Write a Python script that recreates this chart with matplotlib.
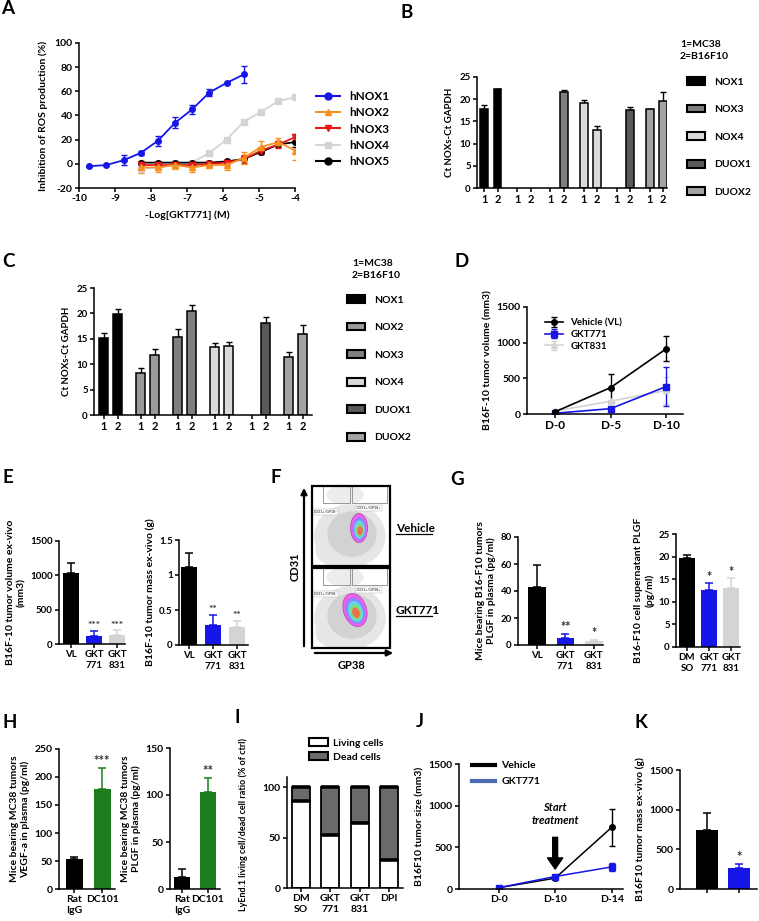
import numpy as np
import matplotlib.pyplot as plt
from matplotlib.patches import Patch, Rectangle, Ellipse
from matplotlib.lines import Line2D

# ---------------- data ----------------
# A: inhibition of ROS production vs -log[GKT771]
a_dose_nox1 = [-9.72, -9.24, -8.76, -8.29, -7.81, -7.33, -6.86, -6.38, -5.90, -5.42]
a_dose_other = [-8.29, -7.81, -7.33, -6.86, -6.38, -5.90, -5.42, -4.94, -4.46, -4.0]
a_nox1 = [-2, -1, 3, 9, 19, 34, 45, 59, 67, 74]
a_nox1_err = [0.5, 0.5, 4, 1.5, 4, 4.5, 4, 3, 1, 7]
a_nox2 = [-3, -3, -1, -3, -1, -1, 5, 14, 18, 11]
a_nox2_err = [5, 4, 3, 4, 2, 4, 5, 5, 3, 8]
a_nox3 = [-1, -1, -1, -1, 0, 1, 4, 11, 16, 22]
a_nox3_err = [2, 2, 2, 2, 2, 2, 3, 3, 3, 3]
a_nox4 = [-4, -3, -1, 1, 9, 20, 35, 43, 52, 55]
a_nox4_err = [1, 1, 1, 1, 1, 1, 1, 1, 2, 1]
a_nox5 = [1, 1, 1, 1, 1, 2, 4, 10, 16, 18]
a_nox5_err = [1, 1, 1, 1, 1, 1, 1, 2, 2, 4]

# B / C: Ct NOXs - Ct GAPDH, 1=MC38, 2=B16F10
genes = ['NOX1', 'NOX2', 'NOX3', 'NOX4', 'DUOX1', 'DUOX2']
b_mc38 = [17.8, np.nan, np.nan, 19.1, np.nan, 17.7]
b_mc38_err = [0.8, 0, 0, 0.8, 0, 0.1]
b_b16 = [22.2, np.nan, 21.7, 13.0, 17.5, 19.6]
b_b16_err = [0.2, 0, 0.3, 0.9, 0.7, 2.0]
c_mc38 = [15.2, 8.2, 15.3, 13.3, np.nan, 11.4]
c_mc38_err = [0.9, 1.1, 1.6, 0.9, 0, 1.0]
c_b16 = [19.9, 11.9, 20.5, 13.6, 18.2, 16.0]
c_b16_err = [1.0, 1.0, 1.1, 0.8, 1.0, 1.8]

# D: tumour growth
d_days = ['D-0', 'D-5', 'D-10']
d_vl = [30, 370, 915]
d_vl_err = [10, 195, 175]
d_771 = [10, 75, 385]
d_771_err = [5, 20, 275]
d_831 = [40, 180, 330]
d_831_err = [10, 20, 190]

# E
e_groups = ['VL', 'GKT\n771', 'GKT\n831']
e_volume = [1030, 110, 130]
e_volume_err = [150, 80, 70]
e_volume_stars = ['', '***', '***']
e_mass = [1.12, 0.28, 0.26]
e_mass_err = [0.19, 0.15, 0.09]
e_mass_stars = ['', '**', '**']

# G
g_plasma = [43, 5.5, 3]
g_plasma_err = [16, 3, 1]
g_plasma_stars = ['', '**', '*']
g_groups_cells = ['DM\nSO', 'GKT\n771', 'GKT\n831']
g_cells = [19.6, 12.6, 13.0]
g_cells_err = [0.7, 1.5, 2.2]
g_cells_stars = ['', '*', '*']

# H
h_groups = ['Rat\nIgG', 'DC101']
h_vegf = [54, 178]
h_vegf_err = [4, 38]
h_vegf_stars = ['', '***']
h_plgf = [13, 103]
h_plgf_err = [8, 15]
h_plgf_stars = ['', '**']

# I
i_groups = ['DM\nSO', 'GKT\n771', 'GKT\n831', 'DPI']
i_living = [86, 53, 64, 28]
i_dead = [14, 47, 36, 72]

# J
j_days = ['D-0', 'D-10', 'D-14']
j_vl = [15, 130, 740]
j_vl_err = [5, 10, 220]
j_771 = [15, 150, 265]
j_771_err = [5, 15, 45]

# K
k_mass = [740, 265]
k_mass_err = [220, 55]
k_stars = ['', '*']

# F: flow cytometry density levels (outer -> core)
f_level_colors = ['#f060ee', '#8f82ff', '#62d8ea', '#80dc80', '#f0704e']
f_level_sizes = [1.0, 0.8, 0.63, 0.47, 0.32]

BLUE = '#1616e6'
LGRAY = '#d4d4d4'
GREEN = '#1d7d1d'

plt.rcParams['font.family'] = ['Lato', 'DejaVu Sans']
plt.rcParams['font.weight'] = 'bold'
plt.rcParams['axes.labelweight'] = 'bold'
plt.rcParams['axes.unicode_minus'] = False
plt.rcParams['axes.linewidth'] = 1.1
plt.rcParams['xtick.major.width'] = 1.1
plt.rcParams['ytick.major.width'] = 1.1
plt.rcParams['xtick.major.size'] = 3
plt.rcParams['ytick.major.size'] = 3
plt.rcParams['xtick.labelsize'] = 7
plt.rcParams['ytick.labelsize'] = 7
plt.rcParams['axes.labelsize'] = 7

W, H = 759, 921
fig = plt.figure(figsize=(W / 100, H / 100), dpi=100)


def px_axes(l, t, r, b):
    ax = fig.add_axes([l / W, 1 - b / H, (r - l) / W, (b - t) / H])
    ax.spines[['top', 'right']].set_visible(False)
    ax.tick_params(pad=1.5)
    ax.patch.set_alpha(0)
    return ax


def fig_anchor(x, y):
    return (x / W, 1 - y / H)


# ---------------- A ----------------
ax = px_axes(79, 43, 295, 188)
a_series = [
    (a_dose_other, a_nox4, a_nox4_err, LGRAY, 's', 'hNOX4'),
    (a_dose_other, a_nox5, a_nox5_err, 'black', 'o', 'hNOX5'),
    (a_dose_other, a_nox3, a_nox3_err, '#e81818', 'v', 'hNOX3'),
    (a_dose_other, a_nox2, a_nox2_err, '#f7901e', '^', 'hNOX2'),
    (a_dose_nox1, a_nox1, a_nox1_err, BLUE, 'o', 'hNOX1'),
]
handles = {}
for x, y, e, c, m, lab in a_series:
    ax.errorbar(x, y, yerr=e, color=c, marker=m, ms=4, lw=1.3,
                elinewidth=1, capsize=2)
    handles[lab] = Line2D([], [], color=c, marker=m, ms=5, lw=1.5)
ax.set_xlim(-10, -4)
ax.set_ylim(-20, 100)
ax.set_xticks(range(-10, -3))
ax.set_yticks(range(-20, 101, 20))
ax.tick_params(labelsize=7.5)
ax.set_xlabel('-Log[GKT771] (M)', labelpad=5, fontsize=7.5)
ax.set_ylabel('Inhibition of ROS production (%)', labelpad=5, fontsize=7.5)
order = ['hNOX1', 'hNOX2', 'hNOX3', 'hNOX4', 'hNOX5']
ax.legend([handles[k] for k in order], order, loc='upper left',
          bbox_to_anchor=fig_anchor(316, 91), bbox_transform=fig.transFigure,
          frameon=False, fontsize=8.5, handlelength=2.0, labelspacing=0.45,
          borderpad=0, borderaxespad=0, handletextpad=0.8)


# ---------------- B / C ----------------
def expr_panel(box, mc38, mc38_err, b16, b16_err, colors, gap, xlim, width,
               leg_genes, leg_anchor, title_xy):
    ax = px_axes(*box)
    base = np.arange(len(mc38)) * gap
    for pos, vals, errs in [(base, mc38, mc38_err), (base + 1, b16, b16_err)]:
        ax.bar(pos, vals, width, color=colors, edgecolor='black', lw=1.1, zorder=2)
        ax.errorbar(pos, vals, yerr=[np.zeros(len(errs)), errs], fmt='none',
                    ecolor='black', elinewidth=1, capsize=2, zorder=1)
    ticks = np.sort(np.concatenate([base, base + 1]))
    ax.set_xticks(ticks, ['1', '2'] * len(mc38), fontsize=8)
    ax.set_xlim(*xlim)
    ax.set_ylim(0, 25)
    ax.set_yticks(range(0, 26, 5))
    ax.set_ylabel('Ct NOXs-Ct GAPDH', labelpad=4)
    col = dict(zip(genes, colors))
    hs = [Patch(facecolor=col[g], edgecolor='black', lw=1.5) for g in leg_genes]
    ax.legend(hs, leg_genes, loc='upper left', bbox_to_anchor=fig_anchor(*leg_anchor),
              bbox_transform=fig.transFigure, frameon=False, fontsize=7.5,
              handlelength=1.7, handleheight=0.8, labelspacing=1.72,
              borderpad=0, borderaxespad=0, handletextpad=0.9)
    fig.text(title_xy[0] / W, 1 - title_xy[1] / H, '1=MC38\n2=B16F10',
             fontsize=7.5, va='top', linespacing=1.4)
    return ax


b_colors = ['#000000', '#9a9a9a', '#7f7f7f', '#dadada', '#595959', '#a3a3a3']
expr_panel((477, 77, 667, 188), b_mc38, b_mc38_err, b_b16, b_b16_err, b_colors,
           2.5, (-0.55, 13.8), 0.6, ['NOX1', 'NOX3', 'NOX4', 'DUOX1', 'DUOX2'],
           (687, 77), (680, 40))
expr_panel((94, 288, 312, 415), c_mc38, c_mc38_err, c_b16, c_b16_err, b_colors,
           2.65, (-0.7, 14.9), 0.64, genes, (347, 295), (352, 259))

# ---------------- D ----------------
ax = px_axes(527, 307, 683, 414)
xs = np.arange(len(d_days))
for vals, errs, c, m, lab in [(d_831, d_831_err, LGRAY, '^', 'GKT831'),
                              (d_771, d_771_err, BLUE, 's', 'GKT771'),
                              (d_vl, d_vl_err, 'black', 'o', 'Vehicle (VL)')]:
    ax.errorbar(xs, vals, yerr=errs, color=c, marker=m, ms=4, lw=1.2,
                elinewidth=1, capsize=2.5, label=lab)
ax.set_xlim(-0.5, 2.3)
ax.set_ylim(0, 1500)
ax.set_yticks(range(0, 1501, 500))
ax.set_xticks(xs, d_days, fontsize=8.5)
ax.tick_params(axis='y', labelsize=7.5)
ax.set_ylabel('B16F-10 tumor volume (mm3)', labelpad=3, fontsize=7.5)
h, l = ax.get_legend_handles_labels()
ax.legend(h[::-1], l[::-1], loc='upper left', bbox_to_anchor=fig_anchor(545, 318),
          bbox_transform=fig.transFigure, frameon=False, fontsize=7,
          handlelength=1.8, labelspacing=0.3, borderpad=0, borderaxespad=0)


# ---------------- bar panels ----------------
def bar_panel(box, labels, vals, errs, colors, ymax, yticks, ylabel, xlim,
              width=0.7, stars=None, star_size=7, tick_size=7, label_size=7,
              ytick_labels=None):
    ax = px_axes(*box)
    x = np.arange(len(vals))
    ax.bar(x, vals, width, color=colors, zorder=2)
    for xi, v, e, c in zip(x, vals, errs, colors):
        ax.errorbar(xi, v, yerr=[[0], [e]], fmt='none', ecolor=c,
                    elinewidth=1.1, capsize=3, capthick=1.1, zorder=1)
    if stars:
        for xi, v, e, s in zip(x, vals, errs, stars):
            if s:
                ax.text(xi, v + e + ymax * 0.005, s, ha='center', va='bottom',
                        fontsize=star_size, color='#333333')
    ax.set_xticks(x, labels, fontsize=tick_size)
    ax.set_xlim(*xlim)
    ax.set_ylim(0, ymax)
    ax.set_yticks(yticks)
    if ytick_labels is not None:
        ax.set_yticklabels(ytick_labels)
    ax.tick_params(axis='y', labelsize=tick_size)
    ax.set_ylabel(ylabel, fontsize=label_size, labelpad=3)
    return ax


cols3 = ['black', BLUE, LGRAY]
bar_panel((59, 541, 125, 644), e_groups, e_volume, e_volume_err, cols3, 1500,
          [0, 500, 1000, 1500], 'B16F-10 tumor volume ex-vivo\n(mm3)',
          (-0.52, 2.35), stars=e_volume_stars, star_size=7.5, label_size=7.5)
bar_panel((179, 540, 248, 645), e_groups, e_mass, e_mass_err, cols3, 1.5,
          [0, 0.5, 1, 1.5], 'B16F-10 tumor mass ex-vivo (g)',
          (-0.42, 2.46), stars=e_mass_stars, star_size=7.5, label_size=7.5,
          ytick_labels=['0', '0.5', '1', '1.5'])
bar_panel((518, 537, 603, 645), e_groups, g_plasma, g_plasma_err, cols3, 80,
          range(0, 81, 20), 'Mice bearing B16-F10 tumors\nPLGF in plasma (pg/ml)',
          (-0.67, 2.32), width=0.63, stars=g_plasma_stars, star_size=9, label_size=7.5)
bar_panel((676, 534, 740, 647), g_groups_cells, g_cells, g_cells_err, cols3, 25,
          range(0, 26, 5), 'B16-F10 cell supernatant PLGF\n(pg/ml)',
          (-0.5, 2.41), width=0.77, stars=g_cells_stars, star_size=9, label_size=7.5)
hax = bar_panel((59, 749, 115, 889), h_groups, h_vegf, h_vegf_err, ['black', GREEN],
                250, range(0, 251, 50), 'Mice bearing MC38 tumors\nVEGF-a in plasma (pg/ml)',
                (-0.54, 1.46), width=0.6, stars=h_vegf_stars, star_size=9.5,
                tick_size=7.5, label_size=7.5)
hax2 = bar_panel((170, 748, 220, 889), h_groups, h_plgf, h_plgf_err, ['black', GREEN],
                 150, range(0, 151, 50), 'Mice bearing MC38 tumors\nPLGF in plasma (pg/ml)',
                 (-0.46, 1.46), width=0.65, stars=h_plgf_stars, star_size=9.5,
                 tick_size=7.5, label_size=7.5)
for a in (hax, hax2):
    for t in a.get_xticklabels():
        t.set_multialignment('left')
bar_panel((680, 770, 757, 889), ['', ''], k_mass, k_mass_err, ['black', BLUE], 1500,
          range(0, 1501, 500), 'B16F10 tumor mass ex-vivo (g)', (-0.84, 1.56),
          width=0.69, stars=k_stars, star_size=9.5, tick_size=7.5, label_size=7.5)

# ---------------- I ----------------
ax = px_axes(287, 777, 403, 888)
xi = np.arange(len(i_groups))
tops = np.array(i_living) + np.array(i_dead)
ax.bar(xi, i_living, 0.62, color='white', edgecolor='black', lw=1.3)
ax.bar(xi, i_dead, 0.62, bottom=i_living, color='#6a6a6a', edgecolor='black', lw=1.3)
ax.hlines(i_living, xi - 0.31, xi + 0.31, color='black', lw=2.6)
ax.hlines(tops, xi - 0.31, xi + 0.31, color='black', lw=2.6)
ax.set_xlim(-0.48, 3.48)
ax.set_ylim(0, 110)
ax.set_yticks([0, 50, 100])
ax.set_xticks(xi, i_groups, fontsize=7.5)
ax.tick_params(axis='y', labelsize=7.5)
ax.set_ylabel('LyEnd.1 living cell/dead cell ratio (% of ctrl)', fontsize=6.5)
ax.yaxis.set_label_coords(-0.34, 0.57)
ax.legend([Patch(facecolor='white', edgecolor='black', lw=1.5),
           Patch(facecolor='#6a6a6a', edgecolor='black', lw=1.5)],
          ['Living cells', 'Dead cells'], loc='upper left',
          bbox_to_anchor=fig_anchor(309, 738), bbox_transform=fig.transFigure,
          frameon=False, fontsize=7.5, handlelength=1.8, handleheight=0.8,
          labelspacing=0.45, borderpad=0, borderaxespad=0, handletextpad=0.5)

# ---------------- J ----------------
ax = px_axes(459, 764, 623, 889)
xj = np.arange(len(j_days))
ax.errorbar(xj, j_vl, yerr=j_vl_err, color='black', marker='o', ms=4, lw=1.1,
            elinewidth=1, capsize=2.5)
ax.errorbar(xj, j_771, yerr=j_771_err, color=BLUE, marker='s', ms=4, lw=1.1,
            elinewidth=1, capsize=2.5)
ax.set_xlim(-0.7, 2.2)
ax.set_ylim(0, 1500)
ax.set_yticks(range(0, 1501, 500))
ax.set_xticks(xj, j_days, fontsize=7.5)
ax.tick_params(axis='y', labelsize=7.5)
ax.set_ylabel('B16F10 tumor size (mm3)', fontsize=7.5, labelpad=3)
ax.annotate('', xy=(1, 240), xytext=(1, 620),
            arrowprops=dict(facecolor='black', edgecolor='black', width=3.5,
                            headwidth=11, headlength=8))
ax.text(1, 900, 'Start\ntreatment', ha='center', va='center', style='italic',
        fontsize=8, linespacing=1.3)
ax.legend([Line2D([], [], color='black', lw=3), Line2D([], [], color='#4a6db3', lw=3)],
          ['Vehicle', 'GKT771'], loc='upper left', bbox_to_anchor=fig_anchor(472, 761),
          bbox_transform=fig.transFigure, frameon=False, fontsize=7.5,
          handlelength=2.2, labelspacing=0.65, borderpad=0, borderaxespad=0,
          handletextpad=0.6)

# ---------------- overlay: panel letters and F ----------------
ov = fig.add_axes([0, 0, 1, 1])
ov.set_xlim(0, W)
ov.set_ylim(H, 0)
ov.axis('off')
ov.patch.set_alpha(0)

for letter, x, y in [('A', 1, 9), ('B', 401, 12), ('C', 2, 261), ('D', 455, 261),
                     ('E', 2, 477), ('F', 270, 477), ('G', 450, 479), ('H', 2, 722),
                     ('I', 234, 717), ('J', 416, 721), ('K', 634, 722)]:
    ov.text(x, y, letter, fontsize=13.5, va='center', ha='left')

# F: two flow-cytometry density plots
for name, top, ctr, size, ang in [('Vehicle', 486, (359, 528), (17, 29), 0),
                                  ('GKT771', 568, (355, 610), (23, 34), -18)]:
    frame = Rectangle((312, top), 78, 80, fc='none', ec='black', lw=1.6, zorder=5)
    ov.add_patch(frame)
    clouds = [Ellipse((350, top + 50), 70, 62, color='#e6e6e6'),
              Ellipse((334, top + 64), 36, 30, color='#e6e6e6'),
              Ellipse((352, top + 48), 48, 44, color='#d2d2d2'),
              Ellipse((345, top + 9), 36, 18, color='#ededed')]
    for c in clouds:
        ov.add_patch(c)
        c.set_clip_path(frame)
    for s, col in zip(f_level_sizes, f_level_colors):
        e = Ellipse((ctr[0] + 1.5 * (1 - s), ctr[1] + 4 * (1 - s)), size[0] * s,
                    size[1] * s, angle=ang, fc=col, ec='#b040b0' if s == 1 else 'none',
                    lw=0.5)
        ov.add_patch(e)
    ov.add_patch(Rectangle((323, top), 27, 17, fc='none', ec='#888888', lw=0.6))
    ov.add_patch(Rectangle((352, top), 35, 17, fc='none', ec='#888888', lw=0.6))
    ov.text(314, top + 26, 'CD31+/GP38-', fontsize=2.6, color='#555555', va='center',
            bbox=dict(fc='white', ec='#aaaaaa', lw=0.3, pad=0.6))
    ov.text(357, top + 22, 'CD31+/GP38+', fontsize=2.6, color='#555555', va='center',
            bbox=dict(fc='white', ec='#aaaaaa', lw=0.3, pad=0.6))
    ov.text(396, top + 42, name, fontsize=8.5, va='center')
    ov.plot([396, 432], [top + 48, top + 48], color='black', lw=0.9)

ov.annotate('', xy=(304, 485), xytext=(304, 649),
            arrowprops=dict(arrowstyle='-|>', lw=1.6, color='black', mutation_scale=9))
ov.annotate('', xy=(396, 653), xytext=(312, 653),
            arrowprops=dict(arrowstyle='-|>', lw=1.6, color='black', mutation_scale=9))
ov.text(295, 567, 'CD31', rotation=90, fontsize=8, ha='center', va='center')
ov.text(351, 665, 'GP38', fontsize=8, ha='center', va='center')

fig.savefig('out.png', dpi=100)
